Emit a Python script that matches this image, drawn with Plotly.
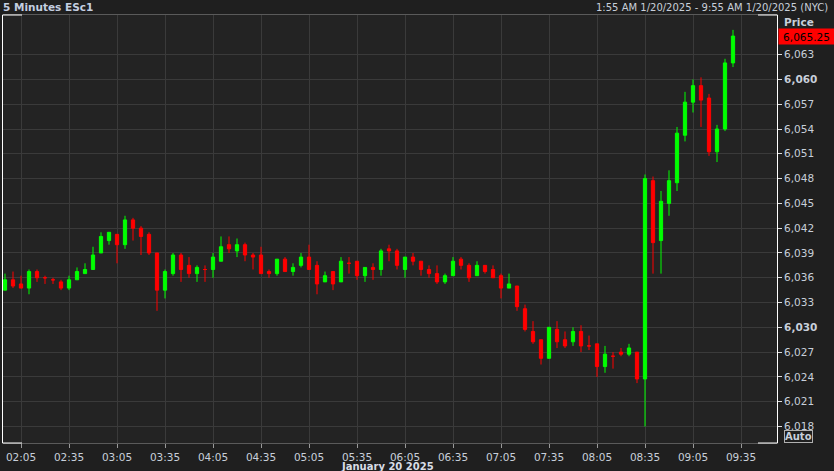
import pandas as pd
import plotly.graph_objects as go

# ---- data (5-minute ESc1 candles, 20 Jan 2025, NYC time) ----
times = pd.date_range("2025-01-20 01:55", periods=92, freq="5min")

open_ = [6034.5, 6035.75, 6035.25, 6034.75, 6036.75, 6036.0, 6035.75, 6035.5, 6034.75, 6035.75,
         6036.5, 6037.0, 6039.0, 6040.5, 6041.25, 6040.0, 6043.0, 6042.0, 6041.25, 6039.0,
         6034.5, 6036.5, 6038.75, 6037.5, 6036.5, 6037.0, 6037.0, 6038.0, 6040.0, 6039.25,
         6040.0, 6038.75, 6038.75, 6036.75, 6036.5, 6038.25, 6036.75, 6037.5, 6038.5, 6037.5,
         6035.5, 6036.75, 6035.5, 6037.75, 6038.0, 6036.25, 6037.25, 6037.0, 6039.5, 6039.25,
         6037.0, 6038.5, 6038.0, 6037.0, 6036.5, 6035.5, 6036.25, 6038.25, 6037.5, 6036.25,
         6037.5, 6037.0, 6036.25, 6034.75, 6035.0, 6032.25, 6029.5, 6028.5, 6026.25, 6029.75,
         6028.5, 6028.25, 6029.5, 6027.75, 6028.0, 6025.25, 6026.5, 6027.0, 6026.75, 6027.0,
         6023.75, 6047.75, 6040.5, 6045.0, 6047.5, 6053.25, 6057.25, 6059.25, 6057.75, 6051.25,
         6054.0, 6062.0]
high = [6036.5, 6036.75, 6036.25, 6037.0, 6037.0, 6036.25, 6036.0, 6035.75, 6036.25, 6037.25,
        6037.75, 6039.75, 6041.5, 6041.5, 6041.25, 6043.5, 6043.25, 6042.25, 6041.5, 6039.0,
        6037.0, 6039.0, 6039.0, 6038.5, 6037.5, 6037.5, 6039.0, 6041.0, 6041.0, 6040.75,
        6040.25, 6039.0, 6039.75, 6037.0, 6038.25, 6038.5, 6037.75, 6039.0, 6040.0, 6038.0,
        6036.75, 6036.75, 6038.5, 6038.5, 6038.0, 6037.25, 6037.75, 6039.5, 6040.0, 6039.5,
        6038.5, 6039.0, 6038.0, 6037.5, 6037.5, 6036.5, 6038.5, 6038.5, 6037.75, 6038.0,
        6037.5, 6037.5, 6036.5, 6036.5, 6035.0, 6032.75, 6030.75, 6028.5, 6030.0, 6030.75,
        6029.5, 6030.0, 6030.25, 6029.0, 6028.0, 6027.75, 6027.0, 6027.5, 6028.0, 6027.0,
        6048.5, 6048.25, 6046.5, 6049.0, 6054.25, 6058.5, 6060.0, 6060.25, 6058.25, 6054.5,
        6062.5, 6066.0]
low = [6034.5, 6034.75, 6034.75, 6034.0, 6035.5, 6035.25, 6035.25, 6034.5, 6034.5, 6035.75,
       6036.5, 6037.0, 6039.0, 6040.0, 6037.75, 6039.5, 6040.5, 6038.75, 6038.75, 6032.0,
       6033.5, 6036.25, 6035.5, 6036.0, 6035.5, 6035.5, 6036.0, 6038.0, 6039.0, 6038.5,
       6038.0, 6037.0, 6036.5, 6036.0, 6036.25, 6036.75, 6036.25, 6037.25, 6037.0, 6034.0,
       6035.5, 6034.5, 6035.5, 6036.5, 6035.75, 6035.5, 6035.75, 6036.25, 6038.0, 6037.0,
       6036.0, 6037.5, 6036.25, 6036.0, 6035.25, 6035.25, 6036.25, 6037.0, 6035.5, 6036.25,
       6036.5, 6036.0, 6033.5, 6034.75, 6032.0, 6029.5, 6028.0, 6025.5, 6026.25, 6027.5,
       6027.5, 6027.75, 6027.0, 6027.25, 6024.0, 6024.5, 6025.0, 6026.5, 6026.5, 6023.25,
       6018.0, 6036.5, 6036.5, 6043.5, 6046.5, 6052.5, 6056.0, 6054.25, 6050.75, 6050.0,
       6053.75, 6061.5]
close = [6035.75, 6035.0, 6034.75, 6036.75, 6036.0, 6036.0, 6035.75, 6034.75, 6035.75, 6036.75,
         6037.0, 6038.75, 6041.0, 6041.5, 6040.0, 6043.0, 6042.0, 6041.0, 6039.0, 6034.5,
         6036.75, 6038.75, 6037.0, 6036.5, 6037.25, 6037.0, 6038.5, 6039.75, 6039.5, 6040.0,
         6038.75, 6038.5, 6036.5, 6036.5, 6038.25, 6036.75, 6037.25, 6038.5, 6037.0, 6035.25,
         6036.25, 6035.25, 6038.0, 6037.75, 6036.25, 6037.25, 6037.0, 6039.25, 6039.25, 6037.5,
         6038.5, 6038.0, 6037.0, 6036.5, 6035.5, 6036.25, 6038.0, 6037.5, 6036.0, 6037.5,
         6036.75, 6036.0, 6034.75, 6035.25, 6032.5, 6029.75, 6028.25, 6026.25, 6030.0, 6028.25,
         6027.75, 6029.5, 6027.75, 6027.75, 6025.25, 6026.75, 6026.5, 6026.75, 6027.5, 6023.75,
         6048.0, 6040.25, 6045.25, 6047.75, 6053.5, 6057.25, 6059.25, 6057.5, 6051.25, 6054.0,
         6062.0, 6065.25]

x_tick_vals = pd.date_range("2025-01-20 02:05", "2025-01-20 09:35", freq="30min")
y_tick_vals = [6018, 6021, 6024, 6027, 6030, 6033, 6036, 6039, 6042, 6045, 6048, 6051, 6054, 6057, 6060, 6063]
y_tick_text = ["6,018", "6,021", "6,024", "6,027", "<b>6,030</b>", "6,033", "6,036", "6,039",
               "6,042", "6,045", "6,048", "6,051", "6,054", "6,057", "<b>6,060</b>", "6,063"]
last_price_text = "6,065.25"
title_text = "5 Minutes ESc1"
range_text = "1:55 AM 1/20/2025 - 9:55 AM 1/20/2025 (NYC)"
date_text = "January 20 2025"

FONT = "DejaVu Sans"
TXT = "#c8cfda"
GRID = "#3a3a3a"

fig = go.Figure(go.Candlestick(
    x=times, open=open_, high=high, low=low, close=close,
    increasing=dict(line=dict(color="#00ff00", width=1), fillcolor="#00ff00"),
    decreasing=dict(line=dict(color="#ff0000", width=1), fillcolor="#ff0000"),
    whiskerwidth=0,
))

fig.update_layout(
    width=834, height=471,
    margin=dict(l=3, r=57, t=15, b=28),
    paper_bgcolor="#1f1f1f", plot_bgcolor="#232323",
    showlegend=False,
    boxgap=0.42,
    font=dict(family=FONT, size=10, color=TXT),
    xaxis=dict(
        type="date",
        range=["2025-01-20 01:53:45", "2025-01-20 09:57:30"],
        rangeslider=dict(visible=False),
        tickvals=x_tick_vals, tickformat="%H:%M",
        ticks="outside", ticklen=4, tickcolor="#9a9a9a",
        showgrid=True, gridcolor=GRID, gridwidth=1,
        showline=True, linecolor="#5a5a5a", linewidth=1, mirror=True,
        zeroline=False,
        tickfont=dict(family=FONT, size=10.5, color=TXT),
    ),
    yaxis=dict(
        side="right",
        range=[6016.0, 6067.8],
        tickvals=y_tick_vals, ticktext=y_tick_text,
        ticks="outside", ticklen=4, tickcolor="#dddddd",
        showgrid=True, gridcolor=GRID, gridwidth=1,
        showline=True, linecolor="#ffffff", linewidth=1, mirror=True,
        zeroline=False,
        tickfont=dict(family=FONT, size=10.5, color=TXT),
    ),
)

# white corner brackets on the frame
corner = 19 / 774
for (x0, x1, yy) in [(0, corner, 1), (1 - corner, 1, 1), (0, corner, 0), (1 - corner, 1, 0)]:
    fig.add_shape(type="line", xref="paper", yref="paper", x0=x0, x1=x1, y0=yy, y1=yy,
                  line=dict(color="#ffffff", width=1), layer="above")

fig.add_annotation(text=f"<b>{title_text}</b>", xref="paper", yref="paper", x=0, y=1,
                   xanchor="left", yanchor="middle", xshift=-2, yshift=8, showarrow=False,
                   font=dict(family=FONT, size=10.5, color="#c4cee0"))
fig.add_annotation(text=range_text, xref="paper", yref="paper", x=1, y=1,
                   xanchor="right", yanchor="middle", xshift=53, yshift=8, showarrow=False,
                   font=dict(family=FONT, size=10, color=TXT))
fig.add_annotation(text="<b>Price</b>", xref="paper", yref="paper", x=1, y=1,
                   xanchor="left", yanchor="middle", xshift=5, yshift=-7, showarrow=False,
                   font=dict(family=FONT, size=10.5, color=TXT))
fig.add_annotation(text=last_price_text, xref="paper", yref="y", x=1, y=close[-1],
                   xanchor="left", yanchor="middle", xshift=1, showarrow=False,
                   bgcolor="#ff0000", width=53, height=13, borderpad=1,
                   font=dict(family=FONT, size=10.5, color="#000000"))
fig.add_annotation(text="<b>Auto</b>", xref="paper", yref="paper", x=1, y=0,
                   xanchor="left", yanchor="bottom", xshift=7, yshift=0, showarrow=False,
                   bordercolor="#b0b0b0", borderwidth=1, borderpad=0,
                   font=dict(family=FONT, size=10, color=TXT))
fig.add_annotation(text=f"<b>{date_text}</b>", xref="paper", yref="paper", x=0.497, y=0,
                   xanchor="center", yanchor="middle", yshift=-23, showarrow=False,
                   font=dict(family=FONT, size=10, color="#d8dde6"))

fig.write_html("out.html", config={"displayModeBar": False},
               post_script="document.body.style.margin='0';document.body.style.background='#1f1f1f';")
